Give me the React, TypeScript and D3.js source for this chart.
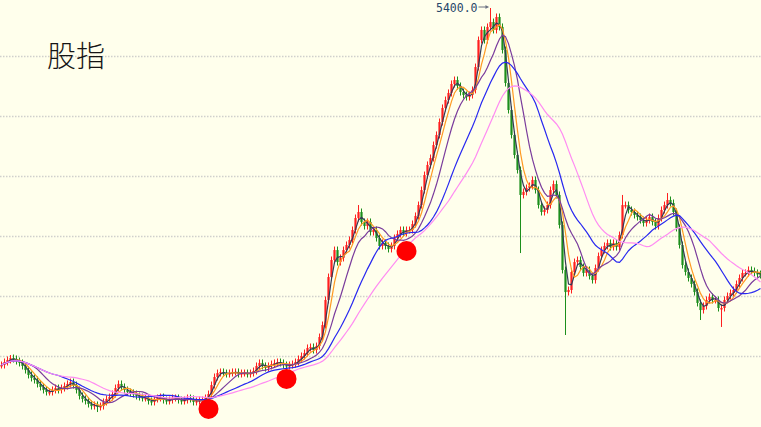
import React from "react";
import * as d3 from "d3";

// Index level per bar (close)
const closes: number[] = [
  2425, 2450, 2467, 2483, 2475, 2458, 2442, 2417, 2383, 2342,
  2317, 2300, 2267, 2242, 2217, 2200, 2200, 2217, 2233, 2217,
  2233, 2250, 2267, 2283, 2258, 2217, 2167, 2142, 2125, 2100,
  2083, 2092, 2075, 2083, 2117, 2142, 2158, 2183, 2233, 2267,
  2242, 2217, 2200, 2192, 2183, 2167, 2158, 2150, 2150, 2125,
  2117, 2142, 2150, 2158, 2133, 2125, 2133, 2150, 2150, 2133,
  2125, 2133, 2150, 2142, 2117, 2125, 2133, 2133, 2150, 2183,
  2258, 2325, 2358, 2367, 2358, 2350, 2358, 2367, 2367, 2350,
  2358, 2358, 2350, 2358, 2375, 2417, 2442, 2417, 2400, 2417,
  2433, 2442, 2450, 2442, 2425, 2417, 2425, 2433, 2450, 2475,
  2500, 2525, 2567, 2575, 2550, 2583, 2658, 2758, 2967, 3158,
  3300, 3383, 3283, 3317, 3383, 3425, 3467, 3550, 3650, 3700,
  3617, 3583, 3617, 3533, 3550, 3483, 3417, 3442, 3417, 3392,
  3417, 3483, 3517, 3550, 3525, 3550, 3550, 3600, 3667, 3758,
  3883, 4008, 4092, 4150, 4258, 4342, 4450, 4567, 4633, 4692,
  4767, 4800, 4750, 4700, 4675, 4658, 4675, 4717, 4908, 5133,
  5217, 5133, 5242, 5283, 5217, 5325, 5242, 5050, 4775, 4550,
  4342, 4175, 4050, 3842, 3867, 3900, 3917, 3967, 3883, 3758,
  3700, 3717, 3758, 3883, 3933, 3842, 3592, 3217, 3033, 3050,
  3200, 3283, 3300, 3242, 3192, 3217, 3167, 3133, 3233, 3333,
  3383, 3417, 3442, 3408, 3442, 3408, 3508, 3758, 3758, 3717,
  3700, 3675, 3658, 3633, 3608, 3633, 3658, 3617, 3583, 3650,
  3717, 3758, 3800, 3775, 3700, 3567, 3425, 3258, 3200, 3150,
  3100, 3033, 2942, 2883, 2917, 2967, 2992, 2967, 2967, 2900,
  2900, 2967, 3000, 3025, 3050, 3100, 3150, 3192, 3192, 3217,
  3208, 3192, 3183, 3175,
];

// Notable long shadows: [bar index, level]
const highSpikes: [number, number][] = [
  [3, 2508], [119, 3758], [163, 5400], [207, 3842], [222, 3858],
];
const lowSpikes: [number, number][] = [
  [32, 2033], [173, 3358], [188, 2675], [233, 2800], [240, 2742],
];

const maPeriods: number[] = [3, 5, 10, 20, 30];
const maColors: string[] = ["#333a55", "#ff9a22", "#7a3c9c", "#2828f0", "#ff8cf2"];

const gridValues: number[] = [2500, 3000, 3500, 4000, 4500, 5000];

const markerBars: number[] = [69, 95, 135];
const markerLevels: number[] = [2059, 2309, 3375];

const peakLabel = "5400.0";
const title = "股指";

export default function App() {
  const W = 761;
  const H = 427;
  const n = closes.length;
  const x = d3.scaleLinear().domain([0, n - 1]).range([1.5, 1.5 + 3 * (n - 1)]);
  const y = d3.scaleLinear().domain([2000, 5000]).range([416, 56]);

  const opens = closes.map((c, i) => (i === 0 ? c : closes[i - 1]));
  const highMap = new Map(highSpikes);
  const lowMap = new Map(lowSpikes);

  const mas = maPeriods.map((p) =>
    closes.map((_, i) => d3.mean(closes.slice(Math.max(0, i - p + 1), i + 1)) as number)
  );
  const line = d3
    .line<number>()
    .x((_, i) => x(i))
    .y((d) => y(d));

  let peakIdx = highSpikes[0][0];
  highSpikes.forEach(([i, v]) => {
    if (v >= (highMap.get(peakIdx) as number)) peakIdx = i;
  });
  const peakVal = highMap.get(peakIdx) as number;

  const upColor = "#ff1f1f";
  const downColor = "#1c8f1c";

  return (
    <>
      <style>{"body{margin:0}"}</style>
      <svg width={W} height={H} style={{ display: "block" }}>
        <rect x={0} y={0} width={W} height={H} fill="#ffffec" />
        {gridValues.map((g) => (
          <line
            key={g}
            x1={0}
            x2={W}
            y1={Math.round(y(g)) + 0.5}
            y2={Math.round(y(g)) + 0.5}
            stroke="#d0d0cc"
            strokeWidth={1.3}
            strokeDasharray="1.5,1.5"
          />
        ))}
        <text
          x={47}
          y={67}
          fontFamily="'Noto Sans CJK SC', sans-serif"
          fontSize={29}
          fontWeight={300}
          fill="#151515"
        >
          {title}
        </text>
        {closes.map((c, i) => {
          const o = opens[i];
          const up = c >= o;
          const col = up ? upColor : downColor;
          const yTop = Math.min(y(o), y(c));
          const yBot = Math.max(y(o), y(c));
          const hTop = highMap.has(i) ? y(highMap.get(i) as number) : yTop - 3.5;
          const lBot = lowMap.has(i) ? y(lowMap.get(i) as number) : yBot + 3.5;
          return (
            <g key={i}>
              <line x1={x(i)} x2={x(i)} y1={hTop} y2={lBot} stroke={col} strokeWidth={1} />
              <rect
                x={x(i) - 1.1}
                y={yTop}
                width={2.2}
                height={Math.max(1.5, yBot - yTop)}
                fill={col}
              />
            </g>
          );
        })}
        {mas.map((m, k) => (
          <path
            key={k}
            d={line(m) as string}
            fill="none"
            stroke={maColors[k]}
            strokeWidth={1.2}
          />
        ))}
        {markerBars.map((b, k) => (
          <circle key={b} cx={x(b)} cy={y(markerLevels[k])} r={10} fill="#ff0000" />
        ))}
        <text
          x={x(peakIdx) - 13}
          y={y(peakVal) + 4}
          textAnchor="end"
          fontFamily="'DejaVu Sans Mono', monospace"
          fontSize={11.5}
          fill="#28466a"
        >
          {peakLabel}
        </text>
        <line
          x1={x(peakIdx) - 12}
          x2={x(peakIdx) - 2}
          y1={y(peakVal) - 1}
          y2={y(peakVal) - 1}
          stroke="#6a7080"
          strokeWidth={1}
        />
        <path
          d={`M${x(peakIdx) - 2},${y(peakVal) - 1} l-3,-2 l0,4 z`}
          fill="#6a7080"
        />
      </svg>
    </>
  );
}
